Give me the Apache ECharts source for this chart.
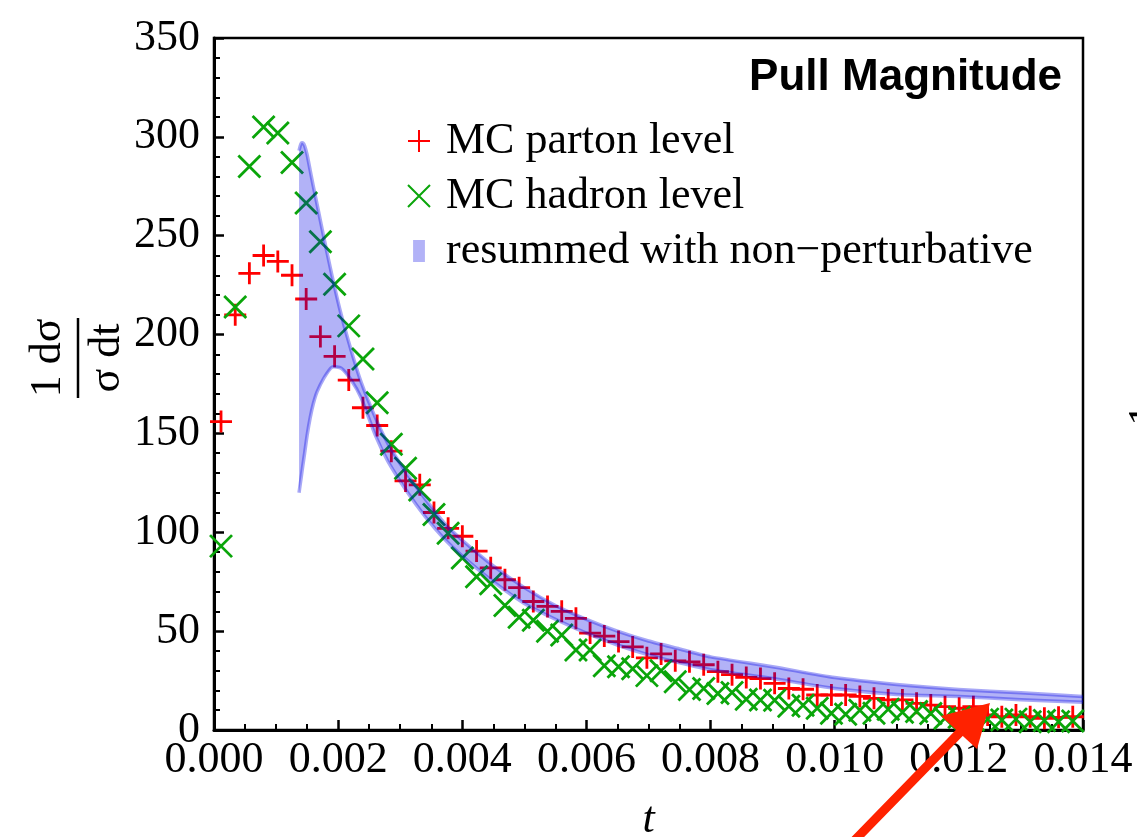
<!DOCTYPE html>
<html>
<head>
<meta charset="utf-8">
<script src="https://cdn.jsdelivr.net/npm/echarts@6/dist/echarts.min.js"></script>
<style>
  html, body { margin: 0; padding: 0; background: #fff; }
  #chart { width: 1137px; height: 837px; }
</style>
</head>
<body>
<div id="chart"></div>
<script>
// Bin centres in t shared by both Monte Carlo histograms
const tValues = [
  0.000113, 0.000342, 0.000570, 0.000799, 0.001028, 0.001257, 0.001485, 0.001714, 0.001943, 0.002171,
  0.002400, 0.002629, 0.002857, 0.003086, 0.003315, 0.003544, 0.003772, 0.004001, 0.004230, 0.004458,
  0.004687, 0.004916, 0.005144, 0.005373, 0.005602, 0.005831, 0.006059, 0.006288, 0.006517, 0.006745,
  0.006974, 0.007203, 0.007431, 0.007660, 0.007889, 0.008118, 0.008346, 0.008575, 0.008804, 0.009032,
  0.009261, 0.009490, 0.009718, 0.009947, 0.010176, 0.010405, 0.010633, 0.010862, 0.011091, 0.011319,
  0.011548, 0.011777, 0.012005, 0.012234, 0.012463, 0.012692, 0.012920, 0.013149, 0.013378, 0.013606,
  0.013835
];

// MC parton level distribution
const partonLevel = [
  156, 210, 231, 240, 237, 230, 218, 199, 189, 177,
  163, 154, 141, 126, 124, 110, 102, 98, 90.5, 82,
  76, 72, 65, 62.5, 60, 56.5, 49, 47.5, 44.7, 42,
  36.5, 38.5, 35, 34.5, 33, 29.5, 28, 26.6, 26, 23.6,
  21, 20.6, 17.7, 17.7, 17.7, 17, 16, 15.2, 15.2, 13.5,
  12.6, 11.8, 11, 11.8, 7.6, 6.7, 7.6, 6.7, 5.9, 6.4,
  6.7
];

// MC hadron level distribution
const hadronLevel = [
  93, 214, 285, 305, 302, 287, 266.5, 247, 225.5, 204.4,
  187.6, 165.5, 144.5, 132.4, 121.4, 109, 99.5, 87, 77.5, 74,
  63, 57, 55.5, 50, 48, 40.5, 40.5, 32.5, 32, 31,
  27.5, 30, 24.4, 20.5, 21, 18.5, 19, 15.5, 15.2, 15,
  12, 12.5, 11, 8.5, 8, 10, 8.5, 10.5, 9, 9.3,
  8.4, 6, 6.5, 5, 5.5, 5, 5.5, 4.2, 4.8, 4.2,
  4.5
];

// Resummed prediction with non-perturbative corrections: lower / upper edges of the band
const bandT = [
  0.00137, 0.00139, 0.00141, 0.00143, 0.00146, 0.00150, 0.00155, 0.00160, 0.00166, 0.00177,
  0.00190, 0.00205, 0.00221, 0.00237, 0.00260, 0.00280, 0.00310, 0.00340, 0.00370, 0.00400,
  0.00450, 0.00500, 0.00550, 0.00600, 0.00650, 0.00700, 0.00750, 0.00800, 0.00900, 0.01000,
  0.01100, 0.01200, 0.01300, 0.01400
];
const bandLower = [
  120, 124.5, 129, 133.5, 140, 149, 158, 165, 171, 178,
  183.5, 183, 177, 168, 149, 136, 121, 108, 97, 88,
  75, 64, 56, 49, 43, 38, 34, 30.5, 26, 21,
  18, 17, 15.3, 14
];
const bandUpper = [
  293, 295.5, 297, 297, 295.5, 291, 283, 275, 266, 249,
  230, 210, 192, 176, 158, 145, 130, 117, 105, 96,
  83, 72, 63, 56, 50, 45, 41, 37, 32, 26.5,
  23, 20.5, 18.8, 17
];

const xTickDecimals = 3;

const serif = 'Liberation Serif';
const PLUS = 'path://M0,11 L22,11 M11,0 L11,22';
const CROSS = 'path://M0,0 L22,22 M22,0 L0,22';
const RED = '#ff0000';
const GREEN = '#0aa50a';
const BAND_FILL = 'rgba(0,0,230,0.30)';
const BAND_EDGE = 'rgba(0,0,230,0.34)';
const BAND_NAME = 'resummed with non\u2212perturbative';

const partonData = tValues.map((t, i) => [t, partonLevel[i]]);
const hadronData = tValues.map((t, i) => [t, hadronLevel[i]]);

// Band: filled region between the two edge curves, plus the edge curves themselves
function renderBand(params, api) {
  const upper = bandT.map((t, i) => api.coord([t, bandUpper[i]]));
  const lower = bandT.map((t, i) => api.coord([t, bandLower[i]]));
  return {
    type: 'group',
    children: [
      { type: 'polygon', shape: { points: upper.concat(lower.slice().reverse()) },
        style: { fill: BAND_FILL } },
      { type: 'polyline', shape: { points: upper, smooth: 0.2 },
        style: { stroke: BAND_EDGE, lineWidth: 3.5, fill: null } },
      { type: 'polyline', shape: { points: lower, smooth: 0.2 },
        style: { stroke: BAND_EDGE, lineWidth: 3.5, fill: null } }
    ]
  };
}

const chart = echarts.init(document.getElementById('chart'), null, { renderer: 'canvas' });

const axisCommon = {
  axisLine: { show: true, onZero: false, lineStyle: { color: '#000', width: 3 } },
  axisTick: { show: true, inside: true, length: 10, lineStyle: { color: '#000', width: 2.5 } },
  minorTick: { show: true, length: 6, lineStyle: { color: '#000', width: 2 } },
  splitLine: { show: false },
  minorSplitLine: { show: false }
};

chart.setOption({
  animation: false,
  backgroundColor: '#fff',
  grid: {
    left: 214, right: 54, top: 38, bottom: 107,
    outerBoundsMode: 'none', containLabel: false,
    show: true, borderColor: '#000', borderWidth: 2.5, backgroundColor: 'transparent'
  },
  xAxis: Object.assign({}, axisCommon, {
    type: 'value', min: 0, max: 0.014, interval: 0.002,
    minorTick: Object.assign({}, axisCommon.minorTick, { splitNumber: 4 }),
    axisLabel: {
      margin: 8, color: '#000', fontFamily: serif, fontSize: 44,
      formatter: v => v.toFixed(xTickDecimals)
    },
    name: 't', nameLocation: 'middle', nameGap: 68,
    nameTextStyle: { color: '#000', fontFamily: serif, fontSize: 44, fontStyle: 'italic' }
  }),
  yAxis: Object.assign({}, axisCommon, {
    type: 'value', min: 0, max: 350, interval: 50,
    minorTick: Object.assign({}, axisCommon.minorTick, { splitNumber: 5 }),
    axisLabel: { margin: 14, color: '#000', fontFamily: serif, fontSize: 44 }
  }),
  legend: {
    orient: 'vertical', left: 402, top: 114,
    itemWidth: 22, itemHeight: 22, itemGap: 11,
    selectedMode: false,
    textStyle: { color: '#000', fontFamily: serif, fontSize: 44, lineHeight: 44, padding: [0, 0, 0, 11] },
    data: [
      { name: 'MC parton level', icon: PLUS },
      { name: 'MC hadron level', icon: CROSS },
      { name: BAND_NAME, icon: 'path://M0,0 L14,0 L14,26 L0,26 Z',
        itemStyle: { color: 'rgb(178,178,247)', borderWidth: 0 } }
    ]
  },
  series: [
    {
      name: 'MC parton level', type: 'scatter', z: 2,
      symbol: PLUS, symbolSize: 22,
      itemStyle: { color: 'transparent', borderColor: RED, borderWidth: 2.8, opacity: 1 },
      data: partonData
    },
    {
      name: 'MC hadron level', type: 'scatter', z: 2,
      symbol: CROSS, symbolSize: 22,
      itemStyle: { color: 'transparent', borderColor: GREEN, borderWidth: 2.8, opacity: 1 },
      data: hadronData
    },
    {
      name: BAND_NAME, type: 'custom', z: 3,
      itemStyle: { color: 'rgb(178,178,247)' },
      renderItem: renderBand,
      data: [[0.007, 100]]
    }
  ],
  graphic: [
    {
      type: 'text', x: 1062, y: 78, z: 10,
      style: { text: 'Pull Magnitude', fill: '#000', font: 'bold 44px "Liberation Sans"', align: 'right', verticalAlign: 'middle' }
    },
    {
      type: 'group', x: 78, y: 358, rotation: Math.PI / 2, z: 10,
      children: [
        { type: 'text', x: 0, y: -30, style: { text: '1 d\u03c3', fill: '#000', font: '44px "Liberation Serif"', align: 'center', verticalAlign: 'middle' } },
        { type: 'line', shape: { x1: -40, y1: 0, x2: 40, y2: 0 }, style: { stroke: '#000', lineWidth: 2.5 } },
        { type: 'text', x: 0, y: 29, style: { text: '\u03c3 dt', fill: '#000', font: '44px "Liberation Serif"', align: 'center', verticalAlign: 'middle' } }
      ]
    },
    {
      type: 'text', x: 1146, y: 415, rotation: Math.PI / 2, z: 10,
      style: { text: '1', fill: '#000', font: '44px "Liberation Serif"', align: 'center', verticalAlign: 'middle' }
    },
    {
      type: 'polyline', z: 20,
      shape: { points: [[853, 842], [968, 724]] },
      style: { stroke: '#ff2200', lineWidth: 9, lineCap: 'round' }
    },
    {
      type: 'polygon', z: 20,
      shape: { points: [[990, 703], [941, 716], [977, 749]] },
      style: { fill: '#ff2200' }
    }
  ]
});
</script>
</body>
</html>
